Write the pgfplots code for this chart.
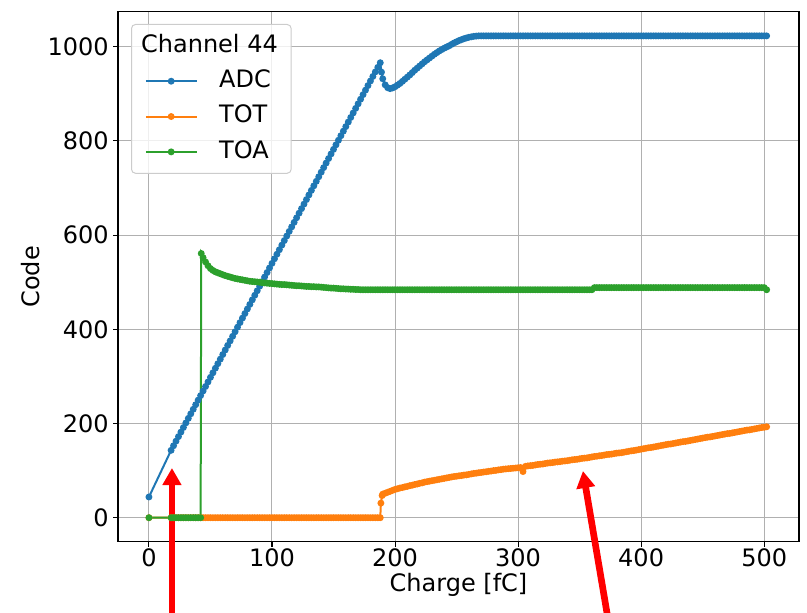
\documentclass[border=0pt]{standalone}
\usepackage{fontspec}
\setmainfont{DejaVu Sans}
\usepackage{pgfplots}
\pgfplotsset{compat=1.18}
\usetikzlibrary{arrows.meta}
\definecolor{tabblue}{HTML}{1F77B4}
\definecolor{taborange}{HTML}{FF7F0E}
\definecolor{tabgreen}{HTML}{2CA02C}
\definecolor{gridgray}{HTML}{B0B0B0}
\definecolor{legframe}{HTML}{CCCCCC}
\begin{document}
\fontsize{18}{21}\selectfont
\begin{tikzpicture}
\useasboundingbox (-88.5pt,-53.4pt) rectangle (516.75pt,406.35pt);
\begin{axis}[
  at={(0pt,0pt)}, anchor=south west, scale only axis,
  width=510.75pt, height=397.5pt,
  xmin=-25.15, xmax=528.3, ymin=-51.15, ymax=1074.15,
  xtick={0,100,200,300,400,500}, ytick={0,200,400,600,800,1000},
  /pgf/number format/assume math mode=true,
  /pgf/number format/1000 sep={},
  tick label style={font=\fontsize{18}{21}\selectfont, inner sep=0pt},
  xticklabel style={yshift=-1pt},
  yticklabel style={xshift=-3.2pt},
  label style={font=\fontsize{18}{21}\selectfont},
  xlabel={Charge [fC]}, ylabel={Code},
  xlabel style={at={(axis description cs:0.5,-0.081)}, anchor=center},
  ylabel style={at={(axis description cs:-0.129,0.5)}, anchor=center},
  grid=major, major grid style={gridgray, line width=0.75pt},
  axis line style={black, line width=0.8pt},
  tick pos=left, tick align=outside, major tick length=3.6pt,
  every tick/.style={black, line width=0.8pt},
  clip=false,
  legend cell align=left,
  legend image code/.code={\draw[mark repeat=2,mark phase=2,#1] plot coordinates {(0pt,0pt) (19pt,0pt) (38pt,0pt)};},
  legend style={at={(0.0191,0.977)}, anchor=north west, draw=legframe, line width=0.75pt,
    rounded corners=3pt, fill=white, fill opacity=0.8, text opacity=1, draw opacity=1,
    font=\fontsize{18}{21}\selectfont, inner xsep=10pt, inner ysep=7.8pt, row sep=10pt,
    nodes={inner sep=0pt, text height=13pt, text depth=3.5pt},
    /tikz/every odd column/.style={column sep=16.2pt}},
]
\addlegendimage{empty legend}
\addlegendentry{\hspace{-58.5pt}Channel 44}

\addplot[tabblue, line width=1.5pt, mark=*, mark size=1.8pt] coordinates {
(0,44) (18,143.1) (20,152.8) (22,162.5) (24,172.2) (26,181.8) (28,191.5) (30,201.2) (32,210.9) (34,220.6)
(36,230.2) (38,239.9) (40,249.6) (42,259.3) (44,269) (46,278.6) (48,288.3) (50,298) (52,307.7) (54,317.4)
(56,327) (58,336.7) (60,346.4) (62,356.1) (64,365.8) (66,375.4) (68,385.1) (70,394.8) (72,404.5) (74,414.2)
(76,423.8) (78,433.5) (80,443.2) (82,452.9) (84,462.6) (86,472.2) (88,481.9) (90,491.6) (92,501.3) (94,511)
(96,520.6) (98,530.3) (100,540) (102,549.7) (104,559.4) (106,569) (108,578.7) (110,588.4) (112,598.1) (114,607.8)
(116,617.4) (118,627.1) (120,636.8) (122,646.5) (124,656.2) (126,665.8) (128,675.5) (130,685.2) (132,694.9) (134,704.6)
(136,714.2) (138,723.9) (140,733.6) (142,743.3) (144,753) (146,762.6) (148,772.3) (150,782) (152,791.7) (154,801.4)
(156,811) (158,820.7) (160,830.4) (162,840.1) (164,849.8) (166,859.4) (168,869.1) (170,878.8) (172,888.5) (174,898.2)
(176,907.8) (178,917.5) (180,927.2) (182,936.9) (184,946.6) (186,956.2) (188,966) (189,946) (190,932) (192,919)
(194,913) (196,911) (198,912.5) (200,915) (202,918.5) (204,922) (206,926.5) (208,931) (210,935.5) (212,940)
(214,945) (216,950) (218,954.5) (220,959) (222,963.5) (224,968) (226,972) (228,976) (230,980) (232,984)
(234,987.5) (236,991) (238,994) (240,997) (242,999.5) (244,1002) (246,1005) (248,1008) (250,1010.5) (252,1013)
(254,1015) (256,1017) (258,1018.5) (260,1020) (262,1021) (264,1022) (266,1022.5) (268,1023) (270,1023) (272,1023)
(274,1023) (276,1023) (278,1023) (280,1023) (282,1023) (284,1023) (286,1023) (288,1023) (290,1023) (292,1023)
(294,1023) (296,1023) (298,1023) (300,1023) (302,1023) (304,1023) (306,1023) (308,1023) (310,1023) (312,1023)
(314,1023) (316,1023) (318,1023) (320,1023) (322,1023) (324,1023) (326,1023) (328,1023) (330,1023) (332,1023)
(334,1023) (336,1023) (338,1023) (340,1023) (342,1023) (344,1023) (346,1023) (348,1023) (350,1023) (352,1023)
(354,1023) (356,1023) (358,1023) (360,1023) (362,1023) (364,1023) (366,1023) (368,1023) (370,1023) (372,1023)
(374,1023) (376,1023) (378,1023) (380,1023) (382,1023) (384,1023) (386,1023) (388,1023) (390,1023) (392,1023)
(394,1023) (396,1023) (398,1023) (400,1023) (402,1023) (404,1023) (406,1023) (408,1023) (410,1023) (412,1023)
(414,1023) (416,1023) (418,1023) (420,1023) (422,1023) (424,1023) (426,1023) (428,1023) (430,1023) (432,1023)
(434,1023) (436,1023) (438,1023) (440,1023) (442,1023) (444,1023) (446,1023) (448,1023) (450,1023) (452,1023)
(454,1023) (456,1023) (458,1023) (460,1023) (462,1023) (464,1023) (466,1023) (468,1023) (470,1023) (472,1023)
(474,1023) (476,1023) (478,1023) (480,1023) (482,1023) (484,1023) (486,1023) (488,1023) (490,1023) (492,1023)
(494,1023) (496,1023) (498,1023) (500,1023) (502,1023)
};
\addlegendentry{ADC}

\addplot[taborange, line width=1.5pt, mark=*, mark size=1.8pt] coordinates {
(0,0) (18,0) (20,0) (22,0) (24,0) (26,0) (28,0) (30,0) (32,0) (34,0)
(36,0) (38,0) (40,0) (42,0) (44,0) (46,0) (48,0) (50,0) (52,0) (54,0)
(56,0) (58,0) (60,0) (62,0) (64,0) (66,0) (68,0) (70,0) (72,0) (74,0)
(76,0) (78,0) (80,0) (82,0) (84,0) (86,0) (88,0) (90,0) (92,0) (94,0)
(96,0) (98,0) (100,0) (102,0) (104,0) (106,0) (108,0) (110,0) (112,0) (114,0)
(116,0) (118,0) (120,0) (122,0) (124,0) (126,0) (128,0) (130,0) (132,0) (134,0)
(136,0) (138,0) (140,0) (142,0) (144,0) (146,0) (148,0) (150,0) (152,0) (154,0)
(156,0) (158,0) (160,0) (162,0) (164,0) (166,0) (168,0) (170,0) (172,0) (174,0)
(176,0) (178,0) (180,0) (182,0) (184,0) (186,0) (188,0) (188.5,31) (189.5,47) (190,50)
(192,52) (194,54) (196,56) (198,58) (200,60) (202,61.5) (204,63) (206,64) (208,65.5) (210,66.5)
(212,68) (214,69) (216,70.5) (218,71.5) (220,73) (222,74) (224,75.5) (226,76.5) (228,77.5) (230,78.5)
(232,79.5) (234,80.5) (236,81.5) (238,82.5) (240,83.5) (242,84.5) (244,85.5) (246,86.5) (248,87.5) (250,88)
(252,89) (254,89.5) (256,90.5) (258,91) (260,92) (262,93) (264,94) (266,94.5) (268,95.5) (270,96)
(272,97) (274,97.5) (276,98.5) (278,99) (280,100) (282,100.5) (284,101.5) (286,102) (288,103) (290,103.5)
(292,104) (294,104.5) (296,105) (298,105.5) (300,106) (302,106.5) (304,98) (306,109) (308,110) (310,110.5)
(312,111) (314,112) (316,113) (318,113.5) (320,114) (322,115) (324,116) (326,116.5) (328,117) (330,118)
(332,118.5) (334,119) (336,120) (338,120.5) (340,121) (342,122) (344,123) (346,123.5) (348,124) (350,125)
(352,126) (354,126.5) (356,127) (358,128) (360,129) (362,130) (364,130.5) (366,131.5) (368,132) (370,133)
(372,134) (374,134.5) (376,135) (378,136) (380,137) (382,137.5) (384,138) (386,139) (388,140) (390,141)
(392,142) (394,142.5) (396,143.5) (398,144.5) (400,145.5) (402,146.5) (404,147.5) (406,148.5) (408,149) (410,150)
(412,151) (414,152) (416,153) (418,154) (420,155) (422,156) (424,156.5) (426,157.5) (428,158.5) (430,159.5)
(432,160.5) (434,161.5) (436,162) (438,163) (440,164) (442,165) (444,166) (446,167) (448,168) (450,169)
(452,170) (454,171) (456,171.5) (458,172.5) (460,173.5) (462,174.5) (464,175.5) (466,176.5) (468,177.5) (470,178.5)
(472,179) (474,180) (476,181) (478,182) (480,183) (482,184) (484,185) (486,186) (488,186.5) (490,187.5)
(492,188.5) (494,189.5) (496,190.5) (498,191.5) (500,192) (502,193)
};
\addlegendentry{TOT}

\addplot[tabgreen, line width=1.5pt, mark=*, mark size=1.8pt] coordinates {
(0,0) (18,0) (20,0) (22,0) (24,0) (26,0) (28,0) (30,0) (32,0) (34,0)
(36,0) (38,0) (40,0) (42,0) (42.5,561) (44,552) (46,543) (48,535) (50,529) (52,525)
(54,522) (56,520) (58,518) (60,516) (62,514) (64,512.5) (66,511) (68,509.5) (70,508) (72,507)
(74,506) (76,505) (78,504) (80,503) (82,502) (84,501.5) (86,501) (88,500.5) (90,500) (92,499)
(94,498.5) (96,498) (98,497.5) (100,497) (102,496.5) (104,496) (106,495.5) (108,495) (110,495) (112,494.5)
(114,494) (116,493.5) (118,493) (120,492.5) (122,492.5) (124,492) (126,491.5) (128,491) (130,491) (132,490.5)
(134,490.5) (136,490) (138,490) (140,489.5) (142,489) (144,488.5) (146,488) (148,487.5) (150,487.5) (152,487)
(154,486.5) (156,486) (158,486) (160,485.5) (162,485.5) (164,485) (166,485) (168,484.5) (170,484.5) (172,484)
(174,484) (176,484) (178,484) (180,484) (182,484) (184,484) (186,484) (188,484) (190,484) (192,484)
(194,484) (196,484) (198,484) (200,484) (202,484) (204,484) (206,484) (208,484) (210,484) (212,484)
(214,484) (216,484) (218,484) (220,484) (222,484) (224,484) (226,484) (228,484) (230,484) (232,484)
(234,484) (236,484) (238,484) (240,484) (242,484) (244,484) (246,484) (248,484) (250,484) (252,484)
(254,484) (256,484) (258,484) (260,484) (262,484) (264,484) (266,484) (268,484) (270,484) (272,484)
(274,484) (276,484) (278,484) (280,484) (282,484) (284,484) (286,484) (288,484) (290,484) (292,484)
(294,484) (296,484) (298,484) (300,484) (302,484) (304,484) (306,484) (308,484) (310,484) (312,484)
(314,484) (316,484) (318,484) (320,484) (322,484) (324,484) (326,484) (328,484) (330,484) (332,484)
(334,484) (336,484) (338,484) (340,484) (342,484) (344,484) (346,484) (348,484) (350,484) (352,484)
(354,484) (356,484) (358,484) (360,484) (362,488.5) (364,488.5) (366,488.5) (368,488.5) (370,488.5) (372,488.5)
(374,488.5) (376,488.5) (378,488.5) (380,488.5) (382,488.5) (384,488.5) (386,488.5) (388,488.5) (390,488.5) (392,488.5)
(394,488.5) (396,488.5) (398,488.5) (400,488.5) (402,488.5) (404,488.5) (406,488.5) (408,488.5) (410,488.5) (412,488.5)
(414,488.5) (416,488.5) (418,488.5) (420,488.5) (422,488.5) (424,488.5) (426,488.5) (428,488.5) (430,488.5) (432,488.5)
(434,488.5) (436,488.5) (438,488.5) (440,488.5) (442,488.5) (444,488.5) (446,488.5) (448,488.5) (450,488.5) (452,488.5)
(454,488.5) (456,488.5) (458,488.5) (460,488.5) (462,488.5) (464,488.5) (466,488.5) (468,488.5) (470,488.5) (472,488.5)
(474,488.5) (476,488.5) (478,488.5) (480,488.5) (482,488.5) (484,488.5) (486,488.5) (488,488.5) (490,488.5) (492,488.5)
(494,488.5) (496,488.5) (498,488.5) (500,488.5) (502,484)
};
\addlegendentry{TOA}

\draw[red, line width=5pt, -{Triangle[width=13.5pt,length=12.75pt]}] (axis cs:18.7,-206) -- (axis cs:18.7,105.5);
\draw[red, line width=5pt, -{Triangle[width=13.5pt,length=12.75pt]}] (axis cs:372.5,-206) -- (axis cs:352.7,99.2);
\end{axis}
\end{tikzpicture}
\end{document}
